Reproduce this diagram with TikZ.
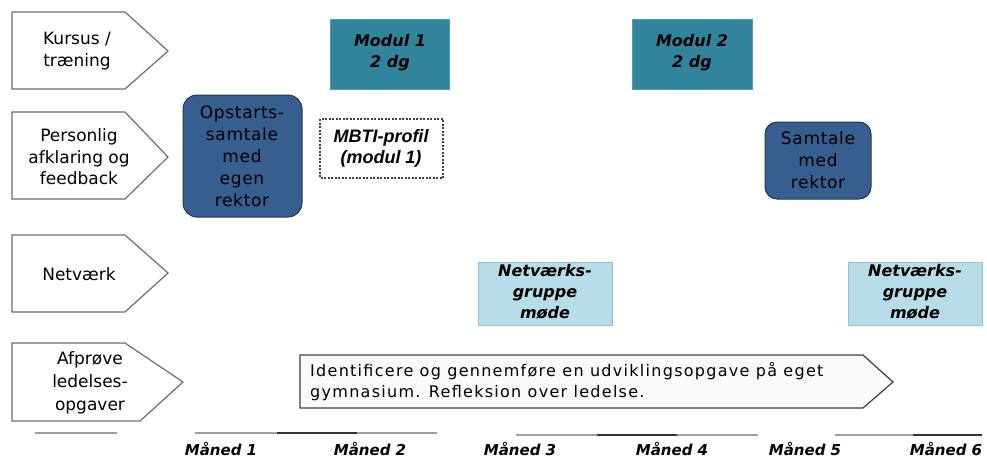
\documentclass[tikz,border=0pt]{standalone}
\usepackage{fontspec}
\setmainfont{DejaVu Sans}
\newfontfamily\arialfont{Liberation Sans}
\newfontfamily\widefont[LetterSpace=8]{DejaVu Sans}
\newfontfamily\talkfont[LetterSpace=4]{DejaVu Sans}
\definecolor{teal1}{RGB}{49,132,155}
\definecolor{tealb}{RGB}{75,155,190}
\definecolor{dblue}{RGB}{54,94,142}
\definecolor{dblueb}{RGB}{36,55,80}
\definecolor{lblue}{RGB}{183,221,232}
\definecolor{lblueb}{RGB}{149,190,220}
\definecolor{rowb}{RGB}{110,110,110}
\begin{document}
\begin{tikzpicture}[x=1pt,y=-1pt,
  rowshape/.style={draw=rowb,line width=1.2pt,fill=white},
  rowtext/.style={align=center,font=\fontsize{17}{21.5}\selectfont,inner sep=0pt},
  modbox/.style={fill=teal1,draw=tealb,line width=1pt},
  modtext/.style={align=center,font=\fontsize{16}{21}\selectfont\bfseries\itshape,inner sep=0pt},
  talkbox/.style={fill=dblue,draw=dblueb,line width=1pt,rounded corners=14pt},
  talktext/.style={align=center,font=\talkfont\fontsize{17}{22}\selectfont,inner sep=0pt},
  netbox/.style={fill=lblue,draw=lblueb,line width=1pt},
  nettext/.style={align=center,font=\fontsize{16}{21}\selectfont\bfseries\itshape,inner sep=0pt},
  monthtext/.style={font=\fontsize{15}{18}\selectfont\bfseries\itshape,inner sep=0pt},
  tline/.style={draw=gray!75,line width=1.8pt},
  tdark/.style={draw=black!80,line width=1.8pt}
]
\useasboundingbox (0,0) rectangle (987,459);

% row labels
\draw[rowshape] (12,12) -- (125,12) -- (168,51) -- (125,89) -- (12,89) -- cycle;
\node[rowtext] (r1) at (77,51) {Kursus /\\træning};
\draw[rowshape] (12,112) -- (125,112) -- (168,157) -- (125,199) -- (12,199) -- cycle;
\node[rowtext] (r2) at (79,157) {Personlig\\afklaring og\\feedback};
\draw[rowshape] (12,235) -- (125,235) -- (168,273) -- (125,312) -- (12,312) -- cycle;
\node[rowtext] (r3) at (79,274) {Netværk};
\draw[rowshape] (12,343) -- (125,343) -- (183,382) -- (140,421) -- (12,421) -- cycle;
\node[rowtext,font=\fontsize{17}{23}\selectfont] (r4) at (90,383) {Afprøve\\ledelses-\\opgaver};

% moduler
\draw[modbox] (330,19) rectangle (449,89);
\node[modtext] (m1) at (390,53) {Modul 1\\2 dg};
\draw[modbox] (632,19) rectangle (752,89);
\node[modtext] (m2) at (692,53) {Modul 2\\2 dg};

% MBTI
\draw[draw=black!75,line width=2pt,dash pattern=on 2pt off 1.5pt,fill=white] (320,119) rectangle (443,178);
\node[align=center,inner sep=0pt,font=\arialfont\fontsize{18}{21}\selectfont\bfseries\itshape] (mbti) at (381,148) {MBTI-profil\\(modul 1)};

% samtaler
\draw[talkbox] (183,95) rectangle (302,217);
\node[talktext] (s1) at (242,156) {Opstarts-\\samtale\\med\\egen\\rektor};
\draw[talkbox,rounded corners=12pt] (765,122) rectangle (871,199);
\node[talktext] (s2) at (818,160) {Samtale\\med\\rektor};

% netvaerk
\draw[netbox] (478,262) rectangle (612,325);
\node[nettext] (n1) at (545,292) {Netværks-\\gruppe\\møde};
\draw[netbox] (848,262) rectangle (982,325);
\node[nettext] (n2) at (915,292) {Netværks-\\gruppe\\møde};

% udviklingsopgave
\draw[draw=black!75,line width=1.2pt,fill=black!2] (300,355) -- (863,355) -- (893,382) -- (863,408) -- (300,408) -- cycle;
\node[anchor=west,align=left,inner sep=0pt,font=\widefont\fontsize{16}{21}\selectfont] (u) at (310,382) {Identificere og gennemføre en udviklingsopgave på eget\\gymnasium. Refleksion over ledelse.};

% timeline
\draw[tline] (35,433) -- (117,433);
\draw[tline] (195,433) -- (437,433);
\draw[tdark] (277,433) -- (357,433);
\draw[tline] (516,435) -- (758,435);
\draw[tdark] (597,435) -- (677,435);
\draw[tline] (835,435) -- (982,435);
\draw[tdark] (913,435) -- (982,435);

\node[monthtext] (mo1) at (221,449) {Måned 1};
\node[monthtext] (mo2) at (370,449) {Måned 2};
\node[monthtext] (mo3) at (520,449) {Måned 3};
\node[monthtext] (mo4) at (672,449) {Måned 4};
\node[monthtext] (mo5) at (805,449) {Måned 5};
\node[monthtext] (mo6) at (946,449) {Måned 6};
\end{tikzpicture}
\end{document}
